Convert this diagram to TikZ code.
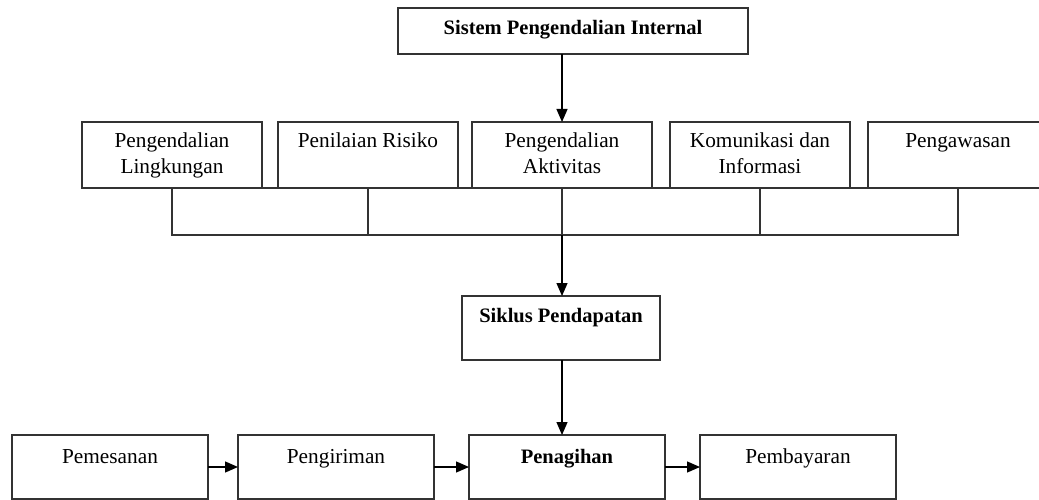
\documentclass[tikz,border=0pt]{standalone}
\usepackage{fontspec}
\setmainfont{Liberation Serif}
\usetikzlibrary{arrows.meta,positioning}
\begin{document}
\begin{tikzpicture}[x=1pt,y=-1pt,
  box/.style={draw=black!80, line width=1.1pt, inner sep=0pt, outer sep=0pt, anchor=north west},
  txt/.style={inner sep=0pt, align=center, font=\fontsize{21.3}{26.5}\selectfont},
  btxt/.style={inner sep=0pt, align=center, font=\fontsize{20.5}{26}\selectfont\bfseries},
  arr/.style={line width=1.3pt, -{Triangle[length=13pt,width=11pt]}},
  ln/.style={draw=black!80, line width=1.1pt}]
\useasboundingbox (0,0) rectangle (1039,500);
\fill[white] (0,0) rectangle (1039,500);
\clip (0,0) rectangle (1039,500);
% top
\node[box, minimum width=350pt, minimum height=46pt] (sys) at (398,8) {};
\node[btxt, below=12.5pt of sys.north] (sysT) {Sistem Pengendalian Internal};
% components
\node[box, minimum width=180pt, minimum height=66pt] (b1) at (82,122) {};
\node[box, minimum width=180pt, minimum height=66pt] (b2) at (278,122) {};
\node[box, minimum width=180pt, minimum height=66pt] (b3) at (472,122) {};
\node[box, minimum width=180pt, minimum height=66pt] (b4) at (670,122) {};
\node[box, minimum width=180pt, minimum height=66pt] (b5) at (868,122) {};
\node[txt, below=10.5pt of b1.north] (t1) {Pengendalian\\Lingkungan};
\node[txt, below=10.5pt of b2.north] (t2) {Penilaian Risiko};
\node[txt, below=10.5pt of b3.north] (t3) {Pengendalian\\Aktivitas};
\node[txt, below=10.5pt of b4.north] (t4) {Komunikasi dan\\Informasi};
\node[txt, below=11pt of b5.north] (t5) {Pengawasan};
% revenue cycle
\node[box, minimum width=198pt, minimum height=64pt] (sik) at (462,296) {};
\node[btxt, below=12pt of sik.north] (sikT) {Siklus Pendapatan};
% bottom row
\node[box, minimum width=196pt, minimum height=64pt] (pem) at (12,435) {};
\node[box, minimum width=196pt, minimum height=64pt] (peng) at (238,435) {};
\node[box, minimum width=196pt, minimum height=64pt] (pen) at (469,435) {};
\node[box, minimum width=196pt, minimum height=64pt] (pay) at (700,435) {};
\node[txt, below=14pt of pem.north] (pemT) {Pemesanan};
\node[txt, below=14pt of peng.north] (pengT) {Pengiriman};
\node[btxt, below=14pt of pen.north] (penT) {Penagihan};
\node[txt, below=14pt of pay.north] (payT) {Pembayaran};
% connectors
\draw[arr] (sys.south -| b3.north) -- (b3.north);
\draw[ln] (b1.south east) -- (b2.south west);
\draw[ln] (b2.south east) -- (b3.south west);
\draw[ln] (b3.south east) -- (b4.south west);
\draw[ln] (b4.south east) -- (b5.south west);
\coordinate (bus) at (562,235);
\draw[ln] (b1.south) -- (b1.south |- bus) -- (b5.south |- bus) -- (b5.south);
\draw[ln] (b2.south) -- (b2.south |- bus);
\draw[ln] (b3.south) -- (b3.south |- bus);
\draw[ln] (b4.south) -- (b4.south |- bus);
\draw[arr] (bus) -- (bus |- sik.north);
\draw[arr] (bus |- sik.south) -- (bus |- pen.north);
\draw[arr] (pem.east) -- (peng.west);
\draw[arr] (peng.east) -- (pen.west);
\draw[arr] (pen.east) -- (pay.west);
\end{tikzpicture}
\end{document}
